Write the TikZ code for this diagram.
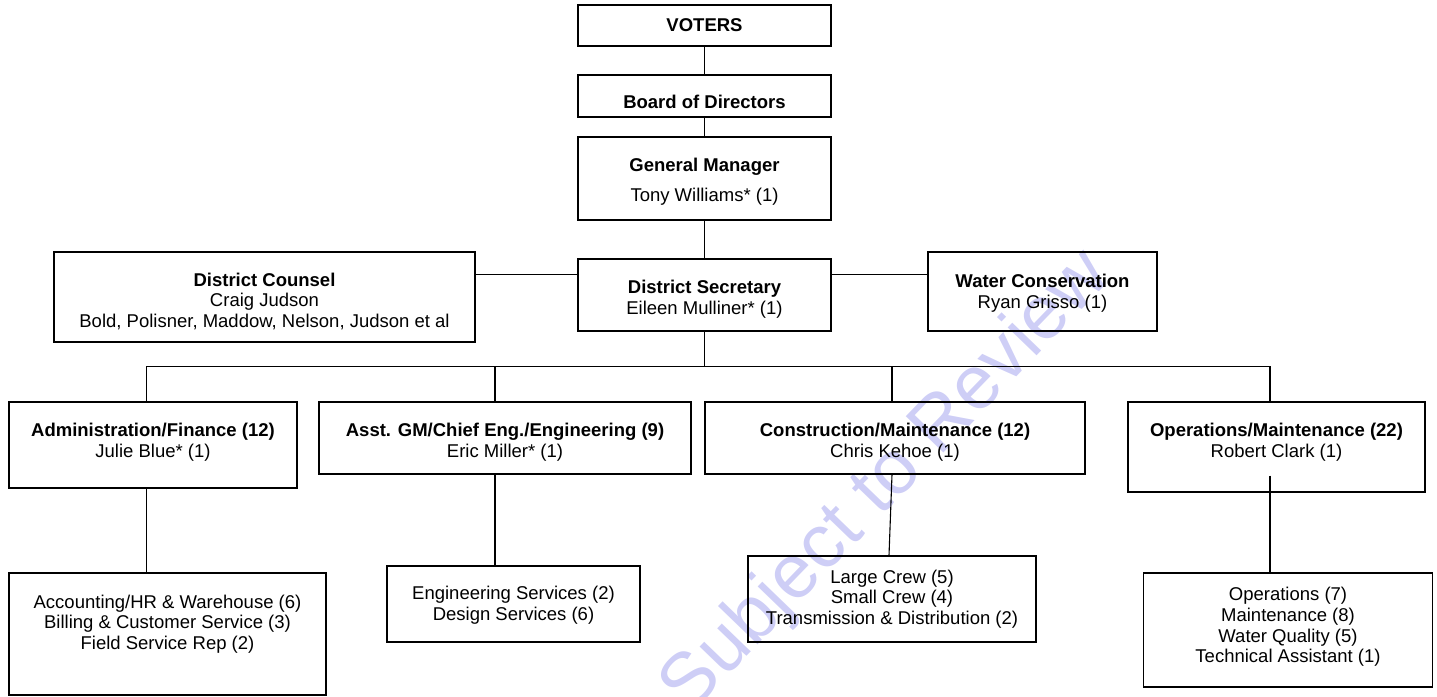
\documentclass[tikz,border=0pt]{standalone}
\usepackage{fontspec}
\setmainfont{Liberation Sans}
\usepackage{tikz}
\usetikzlibrary{calc}
\definecolor{wmark}{RGB}{206,206,246}
\tikzstyle{unit}=[draw=black, line width=1.1pt, inner sep=0pt, align=center, font=\fontsize{18.5}{20.7}\selectfont]
\tikzstyle{head}=[unit, text height=42pt]
\tikzstyle{link}=[draw=black, line width=1.1pt]
\tikzset{>=latex}

\begin{document}
\begin{tikzpicture}[x=1pt, y=-1pt]
        \useasboundingbox (0,0) rectangle (1437,696);

        % Watermark
        \node at (887,483) [rotate=46, text=wmark, font=\fontsize{76}{82}\selectfont] (stamp) {Subject to Review};

        % Top of chain
        \node at (704.5,25.5) [unit, minimum width=253, minimum height=41] (voters) {\textbf{VOTERS}};
        \node at (704.5,96) [unit, minimum width=253, minimum height=42, text height=25pt] (board) {\textbf{Board of Directors}};
        \node at (704.5,178.5) [head, minimum width=253, minimum height=83, text height=50pt] (gm) {\textbf{General Manager}\\[9pt] Tony Williams* (1)};
        \node at (704.5,295) [head, minimum width=253, minimum height=72, text height=43pt] (sec) {\textbf{District Secretary}\\ Eileen Mulliner* (1)};

        % Side boxes
        \node at (264.5,297) [head, minimum width=421, minimum height=90, text height=63.5pt] (counsel) {\textbf{District Counsel}\\ Craig Judson\\ Bold, Polisner, Maddow, Nelson, Judson et al};
        \node at (1042.5,291.5) [head, minimum width=229, minimum height=79, text height=37pt] (water) {\textbf{Water Conservation}\\ Ryan Grisso (1)};

        % Divisions
        \node at (153,445) [head, minimum width=288, minimum height=86, text depth=18pt] (admin) {\textbf{Administration/Finance (12)}\\ Julie Blue* (1)};
        \node at (505,438) [head, minimum width=372, minimum height=72] (asst) {\textbf{Asst. GM/Chief Eng./Engineering (9)}\\ Eric Miller* (1)};
        \node at (895,438) [head, minimum width=380, minimum height=72] (cons) {\textbf{Construction/Maintenance (12)}\\ Chris Kehoe (1)};
        \node at (1276.5,447) [head, minimum width=297, minimum height=90, text depth=22pt] (ops) {\textbf{Operations/Maintenance (22)}\\ Robert Clark (1)};

        % Sections
        \node at (167.5,634) [unit, minimum width=317, minimum height=122, text depth=24pt] (acct) {Accounting/HR \& Warehouse (6)\\ Billing \& Customer Service (3)\\ Field Service Rep (2)};
        \node at (513.5,604) [unit, minimum width=253, minimum height=76, text depth=1pt] (eng) {Engineering Services (2)\\ Design Services (6)};
        \node at (892,599) [unit, minimum width=288, minimum height=86] (crew) {Large Crew (5)\\ Small Crew (4)\\ Transmission \& Distribution (2)};
        \node at (1288,630) [unit, minimum width=289, minimum height=114, text depth=10pt] (opsub) {Operations (7)\\ Maintenance (8)\\ Water Quality (5)\\ Technical Assistant (1)};

        % Chain -> chain
        \draw [link] (voters) -- (board);
        \draw [link] (board) -- (gm);
        \draw [link] (gm) -- (sec);

        % Secretary -> side boxes
        \draw [link] ($(counsel.north east)!.25!(counsel.south east)$) coordinate (side) -- (side -| sec.west);
        \draw [link] (side -| sec.east) -- (side -| water.west);

        % Secretary -> divisions
        \coordinate (bus) at (704.5,366.5);
        \draw [link] (sec) -- (bus);
        \foreach \n/\dx in {admin/-6.5, asst/-10, cons/-3, ops/-6.5}
          \draw [link] ([xshift=\dx pt]\n.north) |- (bus);

        % Divisions -> sections
        \draw [link] ([xshift=-6.5pt]admin.south) -- ([xshift=-6.5pt]admin.south |- acct.north);
        \draw [link] ([xshift=-10pt]asst.south) -- ([xshift=-10pt]asst.south |- eng.north);
        \draw [link] ([xshift=-3pt]cons.south) -- ([xshift=-3pt]crew.north);
        \draw [link] ([xshift=-6.5pt, yshift=17pt]ops.south) -- ([xshift=-6.5pt]ops.south |- opsub.north);
      \end{tikzpicture}
\end{document}
